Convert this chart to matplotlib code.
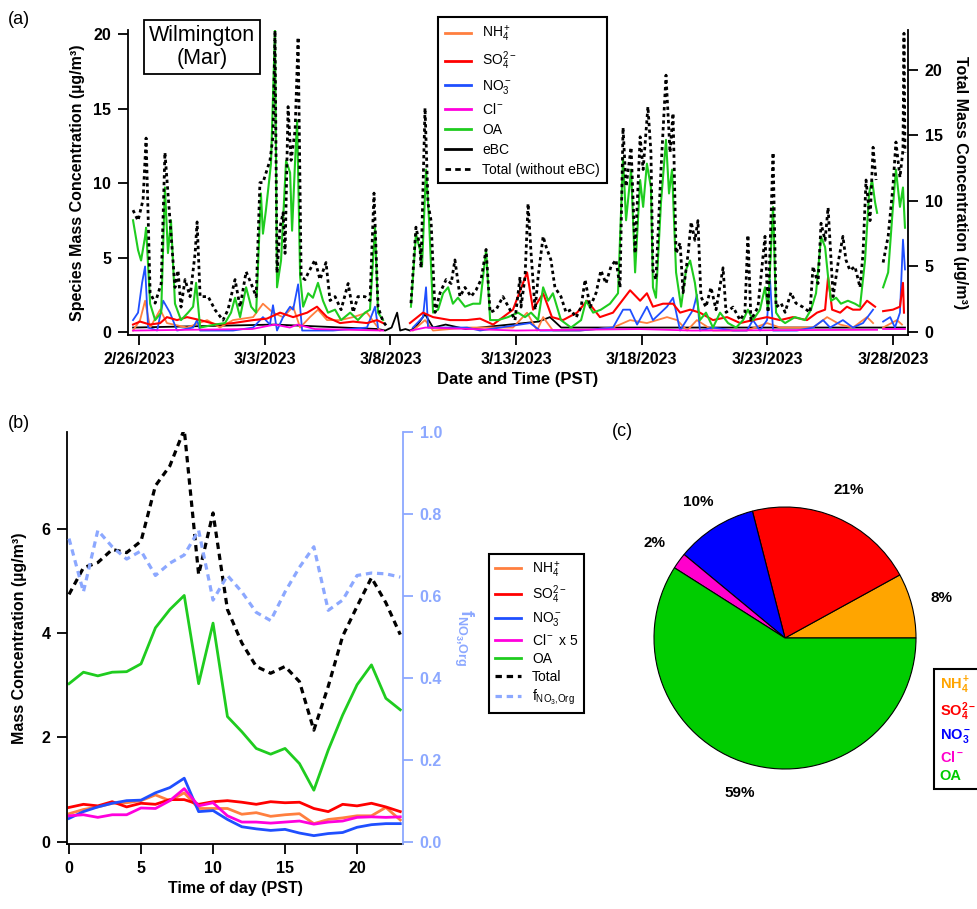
import numpy as np
import pandas as pd
import matplotlib
matplotlib.use('Agg')
import matplotlib.pyplot as plt
import matplotlib.dates as mdates
from matplotlib.lines import Line2D

plt.rcParams['font.family'] = ['Liberation Sans', 'DejaVu Sans']
plt.rcParams['mathtext.fontset'] = 'custom'
plt.rcParams['mathtext.rm'] = 'Liberation Sans'
plt.rcParams['mathtext.it'] = 'Liberation Sans:italic'
plt.rcParams['mathtext.bf'] = 'Liberation Sans:bold'
plt.rcParams['mathtext.default'] = 'regular'

nan = np.nan

# ---- (a) time series, days since 2/26/2023 00:00 PST ----
tot_day = [-0.24, -0.04, 0.16, 0.28, 0.44, 0.64, 0.88, 1.03, 1.23, 1.43,
           1.55, 1.67, 1.83, 2.03, 2.23, 2.31, 2.43, 2.75, 3.02, 3.34,
           3.54, 3.82, 4.02, 4.26, 4.46, 4.66, 4.81, 4.93, 5.21, 5.33,
           5.41, 5.49, 5.61, 5.73, 5.81, 5.93, 6.05, 6.21, 6.33, 6.45,
           6.61, 6.73, 7.00, 7.20, 7.44, 7.60, 7.80, 8.04, 8.32, 8.52,
           8.71, 8.99, 9.19, 9.35, 9.51, 9.71, 9.91, 10.3,
           10.82, 11.02, 11.18, 11.22, 11.38, 11.50, 11.62, 11.78, 11.98, 12.22,
           12.42, 12.57, 12.77, 12.97, 13.21, 13.41, 13.61, 13.81, 13.97, 14.21,
           14.48, 14.76, 14.96, 15.16, 15.20, 15.36, 15.48, 15.60, 15.76, 15.88,
           16.08, 16.20, 16.39, 16.55, 16.79, 16.99, 17.19, 17.39, 17.59, 17.75,
           17.95, 18.19, 18.38, 18.58, 18.78, 18.98, 19.14, 19.26, 19.38, 19.58,
           19.74, 19.94, 20.06, 20.25, 20.37, 20.45, 20.57, 20.77, 20.97, 21.13,
           21.25, 21.37, 21.53, 21.65, 21.85, 21.97, 22.12, 22.24, 22.36, 22.56,
           22.76, 22.96, 23.24, 23.36, 23.64, 23.92, 24.11, 24.23, 24.35, 24.63,
           24.91, 25.03, 25.23, 25.35, 25.55, 25.71, 25.94, 26.14, 26.42, 26.70,
           26.82, 27.02, 27.14, 27.30, 27.42, 27.62, 27.82, 28.01, 28.13, 28.29,
           28.49, 28.69, 28.81, 28.93, 29.09, 29.21, 29.33, 29.45, 29.61, 29.81,
           30.00, 30.12, 30.28, 30.40, 30.44, 30.48]
tot_val = [9.3, 8.5, 10.1, 14.8, 3.0, 2.2, 3.7, 13.7, 8.5, 3.4,
           4.7, 1.9, 4.0, 2.7, 6.0, 8.4, 2.7, 2.7, 1.7, 0.9,
           1.7, 4.0, 1.9, 4.6, 3.7, 2.7, 11.4, 11.4, 13.1, 14.9,
           23.0, 4.5, 8.0, 9.1, 6.0, 17.2, 13.1, 15.4, 22.5, 4.2,
           4.0, 4.5, 5.5, 4.0, 5.3, 2.4, 2.7, 1.7, 3.7, 1.5,
           2.7, 2.7, 2.4, 10.6, 1.9, 0.8, 0.3, nan,
           2.2, 8.0, 6.5, 4.9, 17.1, 9.8, 8.5, 1.5, 3.0, 4.0,
           3.7, 5.5, 2.7, 3.4, 2.7, 3.2, 4.0, 6.3, 1.5, 1.7,
           2.7, 1.7, 0.9, 4.2, 1.9, 4.2, 9.8, 6.0, 1.7, 4.2,
           7.3, 6.5, 5.5, 3.4, 2.7, 1.5, 1.7, 1.1, 1.9, 4.0,
           1.9, 3.0, 4.7, 3.7, 5.0, 5.5, 3.4, 15.6, 11.1, 14.1,
           6.0, 14.9, 12.4, 17.2, 13.7, 4.7, 4.0, 12.4, 19.6, 13.7,
           16.7, 6.0, 6.8, 3.0, 6.0, 8.4, 7.0, 8.5, 2.7, 1.9,
           3.4, 1.7, 4.9, 1.5, 1.9, 0.9, 1.5, 7.4, 0.9, 1.9,
           7.3, 1.5, 13.7, 1.9, 2.2, 1.5, 3.0, 2.2, 1.9, 1.5,
           5.0, 3.7, 8.3, 7.0, 9.5, 2.7, 5.3, 7.3, 5.5, 4.7,
           5.0, 3.4, 6.0, 11.6, 8.5, 14.1, 11.6, nan, 5.3, 7.3,
           11.1, 14.5, 11.8, 13.9, 22.8, 13.7]

oa_day = [-0.24, -0.04, 0.08, 0.24, 0.28, 0.44, 0.64, 0.88, 1.03, 1.15,
          1.27, 1.43, 1.67, 1.95, 2.15, 2.27, 2.43, 3.02, 3.42, 3.66,
          3.82, 4.02, 4.26, 4.46, 4.66, 4.85, 4.93, 5.05, 5.25, 5.41,
          5.49, 5.65, 5.85, 6.01, 6.09, 6.21, 6.29, 6.41, 6.53, 6.73,
          6.92, 7.12, 7.32, 7.52, 7.80, 8.04, 8.40, 8.71, 8.99, 9.19,
          9.39, 9.51, 9.71, 10.3,
          10.82, 11.02, 11.18, 11.26, 11.42, 11.54, 11.70, 11.90, 12.10, 12.30,
          12.49, 12.69, 12.97, 13.29, 13.57, 13.81, 13.97, 14.29, 14.68, 15.08,
          15.36, 15.60, 15.88, 16.08, 16.28, 16.47, 16.79, 17.19, 17.59, 17.79,
          18.07, 18.38, 18.74, 19.06, 19.26, 19.38, 19.58, 19.74, 19.94, 20.06,
          20.21, 20.37, 20.45, 20.57, 20.77, 20.97, 21.09, 21.21, 21.37, 21.57,
          21.77, 21.93, 22.12, 22.32, 22.56, 22.84, 23.12, 23.44, 23.76, 24.04,
          24.23, 24.43, 24.71, 24.91, 25.03, 25.23, 25.35, 25.55, 25.71, 26.10,
          26.50, 26.74, 26.94, 27.14, 27.30, 27.42, 27.54, 27.74, 27.93, 28.21,
          28.49, 28.69, 28.89, 29.05, 29.17, 29.29, 29.37, 29.45,
          29.61, 29.81, 30.00, 30.12, 30.28, 30.40, 30.48]
oa_val = [7.5, 5.5, 4.8, 6.4, 7.0, 1.9, 0.8, 1.3, 9.7, 5.3,
          7.5, 1.9, 0.8, 1.3, 1.7, 3.3, 0.3, 0.5, 0.6, 1.3,
          2.3, 1.0, 3.0, 1.7, 1.3, 9.3, 6.6, 8.2, 11.3, 20.3,
          3.0, 4.8, 11.5, 10.7, 6.8, 11.5, 14.2, 3.7, 1.7, 2.6,
          2.3, 3.3, 2.1, 1.3, 1.5, 0.8, 1.3, 0.8, 1.3, 1.5,
          7.0, 1.3, 0.8, nan,
          1.7, 6.6, 5.5, 4.4, 10.9, 7.5, 1.3, 1.5, 2.6, 3.0,
          1.9, 2.3, 1.7, 1.9, 1.9, 5.5, 0.8, 0.8, 1.0, 1.3,
          1.0, 1.3, 0.8, 3.0, 2.1, 2.6, 0.8, 0.3, 0.8, 2.1,
          1.3, 1.5, 1.9, 2.6, 11.7, 7.5, 10.9, 4.0, 10.2, 8.4,
          11.3, 9.7, 3.0, 2.3, 8.7, 12.9, 9.3, 10.9, 4.0, 1.7,
          4.2, 4.8, 3.3, 0.8, 1.3, 0.3, 1.3, 0.6, 0.3, 0.8,
          1.5, 0.8, 1.5, 3.0, 1.5, 8.4, 1.3, 0.8, 0.6, 1.0,
          0.8, 1.5, 2.6, 6.4, 5.7, 3.7, 2.1, 2.3, 1.9, 2.1,
          1.9, 1.7, 4.8, 9.3, 10.2, 8.7, 8.0, nan,
          3.0, 4.0, 8.4, 10.9, 8.4, 9.7, 7.0]

so4_day = [-0.24, 0.04, 0.44, 0.84, 1.11, 1.51, 1.91, 2.43, 3.10, 3.74,
           4.54, 5.09, 5.61, 6.13, 6.69, 7.08, 7.48, 8.00, 8.52, 9.07,
           9.47, 9.71, 10.3,
           10.78, 11.30, 11.70, 12.38, 13.05, 13.57, 14.09, 14.88, 15.44, 15.68,
           16.08, 16.43, 16.87, 17.43, 17.83, 18.34, 18.86, 19.54, 19.94, 20.21,
           20.45, 20.85, 21.25, 21.53, 21.93, 22.32, 22.84, 23.40, 23.92, 24.43,
           24.99, 25.51, 26.02, 26.58, 26.98, 27.30, 27.42, 27.58, 27.90, 28.17,
           28.41, 28.69, 28.97, 29.29, 29.45,
           29.61, 30.00, 30.28, 30.40, 30.44]
so4_val = [0.5, 0.7, 0.5, 0.6, 1.0, 0.8, 1.0, 0.8, 0.5, 0.6,
           0.8, 0.9, 1.3, 1.0, 1.3, 1.7, 1.0, 0.6, 0.7, 0.6,
           0.8, 0.6, nan,
           0.6, 1.3, 1.0, 0.8, 0.8, 0.9, 0.5, 1.5, 4.0, 1.5,
           2.6, 1.0, 0.8, 1.3, 2.1, 1.0, 1.3, 2.8, 2.1, 2.6,
           1.7, 1.9, 1.9, 1.3, 1.5, 1.3, 0.8, 1.0, 0.6, 0.8,
           1.0, 0.8, 1.0, 0.8, 1.3, 1.5, 3.7, 1.5, 1.3, 1.7,
           1.5, 1.5, 2.1, 1.7, nan,
           1.4, 1.5, 1.7, 3.3, 1.3]

no3_day = [-0.24, -0.04, 0.12, 0.24, 0.36, 0.72, 0.96, 1.23, 1.51, 2.15,
           2.31, 2.43, 3.74, 4.54, 4.93, 5.21, 5.33, 5.49, 5.73, 6.01,
           6.13, 6.33, 6.49, 7.72, 9.07, 9.39, 9.51, 10.3,
           10.90, 11.30, 11.42, 11.50, 13.05, 13.57, 15.56, 15.96, 17.55, 18.86,
           19.26, 19.54, 19.82, 20.21, 20.45, 21.01, 21.25, 21.53, 22.05, 22.20,
           22.32, 22.84, 23.64, 24.19, 24.43, 24.71, 24.99, 25.11, 25.23, 26.18,
           26.82, 27.22, 27.50, 28.01, 28.41, 28.81, 29.21, 29.45,
           29.61, 29.89, 30.08, 30.28, 30.40, 30.48]
no3_val = [0.8, 1.3, 3.3, 4.4, 0.3, 0.1, 2.1, 1.3, 0.1, 0.3,
           0.8, 0.1, 0.1, 0.3, 1.0, 0.5, 1.8, 0.1, 1.0, 1.7,
           1.5, 3.2, 0.1, 0.1, 0.3, 1.7, 0.3, nan,
           0.3, 1.0, 3.0, 0.3, 0.3, 0.1, 0.6, 0.1, 0.1, 0.3,
           1.5, 1.5, 0.5, 1.7, 0.8, 1.7, 2.3, 0.1, 1.5, 2.5,
           0.1, 0.3, 0.1, 0.1, 0.8, 0.1, 0.8, 3.5, 0.1, 0.1,
           0.3, 0.8, 0.3, 0.8, 0.3, 0.6, 1.5, nan,
           0.7, 1.0, 0.3, 1.3, 6.2, 4.2]

nh4_day = [-0.24, 0.04, 0.24, 0.44, 0.84, 1.11, 1.91, 2.71, 3.22, 3.74,
           4.54, 4.93, 5.33, 5.73, 6.13, 6.41, 6.80, 7.12, 7.48, 8.00,
           8.52, 9.07, 9.59, 10.3,
           10.90, 11.38, 11.70, 13.05, 13.85, 14.88, 15.44, 15.84, 16.08, 16.47,
           17.55, 18.86, 19.54, 20.21, 21.01, 21.41, 21.81, 22.20, 22.84, 24.19,
           24.99, 25.51, 26.82, 27.38, 27.90, 28.41, 28.97, 29.21, 29.45,
           29.61, 30.16, 30.36]
nh4_val = [0.1, 0.8, 2.1, 0.3, 1.5, 0.6, 0.3, 0.8, 0.3, 0.8,
           1.0, 1.9, 1.3, 1.0, 1.7, 0.3, 1.0, 1.5, 0.8, 0.8,
           1.0, 1.3, 0.1, nan,
           0.1, 0.8, 0.1, 0.3, 0.3, 0.3, 1.3, 0.1, 1.0, 0.1,
           0.1, 0.3, 0.8, 0.6, 1.0, 0.8, 0.1, 0.8, 0.1, 0.1,
           0.6, 0.3, 0.3, 1.0, 0.5, 0.3, 1.0, 0.6, nan,
           0.3, 0.8, 0.5]

cl_day = [-0.24, 2.0, 4.5, 5.4, 6.0, 6.3, 7.0, 9.71, 10.3, 10.82,
          11.4, 15.0, 19.9, 22.0, 29.37, 29.45, 29.61, 30.48]
cl_val = [0.1, 0.15, 0.2, 0.5, 0.3, 0.5, 0.2, 0.1, nan, 0.1,
          0.3, 0.1, 0.2, 0.1, 0.15, nan, 0.2, 0.2]

bc_day = [-0.24, 5.4, 9.5, 9.8, 10.05, 10.27, 10.39, 10.6, 10.78, 11.0,
          11.38, 11.7, 12.2, 13.0, 15.9, 16.35, 16.8, 20.0, 30.48]
bc_val = [0.3, 0.5, 0.2, 0.1, 0.3, 1.3, 0.1, 0.2, 0.1, 0.3,
          1.2, 0.3, 0.5, 0.2, 0.7, 1.0, 0.3, 0.3, 0.3]

# ---- (b) diurnal cycle ----
hours = list(range(24))
d_nh4 = [0.54, 0.62, 0.67, 0.74, 0.75, 0.79, 0.90, 0.79, 0.94, 0.64, 0.64, 0.64,
         0.53, 0.56, 0.49, 0.52, 0.54, 0.35, 0.43, 0.46, 0.50, 0.50, 0.66, 0.42]
d_so4 = [0.66, 0.72, 0.69, 0.77, 0.67, 0.74, 0.72, 0.81, 0.81, 0.72, 0.77, 0.79,
         0.76, 0.72, 0.77, 0.75, 0.76, 0.64, 0.58, 0.72, 0.69, 0.74, 0.67, 0.58]
d_no3 = [0.45, 0.58, 0.67, 0.74, 0.79, 0.80, 0.94, 1.04, 1.22, 0.58, 0.60, 0.43,
         0.29, 0.25, 0.22, 0.24, 0.17, 0.12, 0.16, 0.18, 0.28, 0.33, 0.35, 0.35]
d_cl5 = [0.50, 0.52, 0.47, 0.52, 0.52, 0.65, 0.64, 0.79, 1.02, 0.69, 0.75, 0.50,
         0.38, 0.38, 0.36, 0.38, 0.40, 0.34, 0.38, 0.40, 0.47, 0.48, 0.47, 0.48]
d_oa = [3.03, 3.25, 3.18, 3.25, 3.26, 3.41, 4.10, 4.45, 4.72, 3.03, 4.19, 2.40,
        2.11, 1.79, 1.68, 1.79, 1.50, 0.99, 1.76, 2.43, 3.01, 3.39, 2.75, 2.53]
d_tot = [4.74, 5.25, 5.35, 5.60, 5.54, 5.76, 6.82, 7.20, 7.90, 5.12, 6.30, 4.45,
         3.81, 3.36, 3.23, 3.36, 3.07, 2.14, 2.98, 3.94, 4.51, 5.06, 4.58, 3.97]
d_fno3 = [0.74, 0.61, 0.76, 0.72, 0.69, 0.71, 0.65, 0.68, 0.70, 0.76, 0.59, 0.65,
          0.61, 0.56, 0.54, 0.61, 0.67, 0.72, 0.565, 0.59, 0.65, 0.656, 0.654, 0.646]

# ---- (c) campaign mean composition (%) ----
pie_names = ['NH$_4^+$', 'SO$_4^{2-}$', 'NO$_3^-$', 'Cl$^-$', 'OA']
pie_pct = [8, 21, 10, 2, 59]
pie_cols = ['#FFA500', '#FF0000', '#0000FF', '#FF00CC', '#00CC00']

c_nh4 = '#FF7F3F'
c_so4 = '#FF0000'
c_no3 = '#1F4FFF'
c_cl = '#FF00DD'
c_oa = '#1FCC1F'
c_f = '#8CA8FF'

W, H = 977, 909
fig = plt.figure(figsize=(W / 100, H / 100), dpi=100)


def fx(px):
    return px / W


def fy(py):
    return 1 - py / H


def bold_ticks(ax):
    for lab in ax.get_xticklabels() + ax.get_yticklabels():
        lab.set_fontweight('bold')


# ================= (a) =================
t0 = mdates.date2num(pd.Timestamp('2023-02-26'))
ax = fig.add_axes([fx(128), fy(335), fx(780), 305 / H])
ax2 = ax.twinx()

ax.plot(t0 + np.array(bc_day), bc_val, color='black', lw=1.3)
ax.plot(t0 + np.array(nh4_day), nh4_val, color=c_nh4, lw=1.3)
ax.plot(t0 + np.array(no3_day), no3_val, color=c_no3, lw=1.3)
ax.plot(t0 + np.array(so4_day), so4_val, color=c_so4, lw=1.5)
ax.plot(t0 + np.array(cl_day), cl_val, color=c_cl, lw=1.3)
ax.plot(t0 + np.array(oa_day), oa_val, color=c_oa, lw=1.5)
ax2.plot(t0 + np.array(tot_day), tot_val, color='black', lw=2, ls=(0, (1.2, 1.2)))

ax.set_xlim(t0 - 0.44, t0 + 30.6)
ax.set_ylim(-0.2, 20.27)
ax2.set_ylim(-0.23, 23.05)
xt = pd.date_range('2023-02-26', '2023-03-28', freq='5D')
ax.set_xticks(mdates.date2num(xt))
ax.set_xticklabels([f'{d.month}/{d.day}/{d.year}' for d in xt])
ax.set_yticks([0, 5, 10, 15, 20])
ax2.set_yticks([0, 5, 10, 15, 20])
for a in (ax, ax2):
    a.spines['top'].set_visible(False)
    a.tick_params(direction='out', length=7, width=1.3, pad=5, labelsize=11.5)
    for s in a.spines.values():
        s.set_linewidth(1.3)
ax.spines['right'].set_visible(False)
ax2.spines['left'].set_visible(False)
ax2.spines['bottom'].set_visible(False)
bold_ticks(ax)
bold_ticks(ax2)
ax.set_xlabel('Date and Time (PST)', fontsize=12, fontweight='bold', labelpad=4)
ax.set_ylabel('Species Mass Concentration (µg/m³)', fontsize=11.5, fontweight='bold', labelpad=6)
ax2.set_ylabel('Total Mass Concentration (µg/m³)', fontsize=11.5, fontweight='bold',
               rotation=270, labelpad=18)

fig.text(fx(8), fy(19), '(a)', fontsize=13, va='center', ha='left')
fig.text(fx(202), fy(47), 'Wilmington\n(Mar)', fontsize=15.5, ha='center', va='center',
         linespacing=1.1,
         bbox=dict(boxstyle='square,pad=0.25', fc='white', ec='black', lw=1.3))

leg_a = [Line2D([], [], color=c_nh4, lw=2), Line2D([], [], color=c_so4, lw=2),
         Line2D([], [], color=c_no3, lw=2), Line2D([], [], color=c_cl, lw=2),
         Line2D([], [], color=c_oa, lw=2), Line2D([], [], color='black', lw=2),
         Line2D([], [], color='black', lw=2, ls=(0, (2, 1.5)))]
lab_a = ['NH$_4^+$', 'SO$_4^{2-}$', 'NO$_3^-$', 'Cl$^-$', 'OA', 'eBC', 'Total (without eBC)']
lg = fig.legend(leg_a, lab_a, loc='upper left', bbox_to_anchor=(fx(438), fy(17)),
                fontsize=10, handlelength=1.9, labelspacing=0.42, borderpad=0.5,
                fancybox=False, framealpha=1, edgecolor='black', borderaxespad=0)
lg.get_frame().set_linewidth(1.5)

# ================= (b) =================
bx = fig.add_axes([fx(67), fy(844), fx(336), 412 / H])
bx2 = bx.twinx()
l1, = bx.plot(hours, d_nh4, color=c_nh4, lw=2)
l2, = bx.plot(hours, d_so4, color=c_so4, lw=2)
l3, = bx.plot(hours, d_no3, color=c_no3, lw=2)
l4, = bx.plot(hours, d_cl5, color=c_cl, lw=2)
l5, = bx.plot(hours, d_oa, color=c_oa, lw=2)
l6, = bx.plot(hours, d_tot, color='black', lw=2.3, ls=(0, (2, 1.5)))
l7, = bx2.plot(hours, d_fno3, color=c_f, lw=2.3, ls=(0, (2, 1.5)))

bx.set_xlim(-0.14, 23.19)
bx.set_ylim(-0.04, 7.85)
bx2.set_ylim(-0.005, 1.0)
bx.set_xticks([0, 5, 10, 15, 20])
bx.set_yticks([0, 2, 4, 6])
bx2.set_yticks([0.0, 0.2, 0.4, 0.6, 0.8, 1.0])
bx2.set_yticklabels(['0.0', '0.2', '0.4', '0.6', '0.8', '1.0'])
for a in (bx, bx2):
    a.spines['top'].set_visible(False)
    a.tick_params(direction='out', length=7, width=1.3, pad=5, labelsize=11.5)
    for s in a.spines.values():
        s.set_linewidth(1.3)
bx.spines['right'].set_visible(False)
bx2.spines['left'].set_visible(False)
bx2.spines['bottom'].set_visible(False)
bx2.spines['right'].set_color(c_f)
bx2.tick_params(axis='y', colors=c_f)
bold_ticks(bx)
bold_ticks(bx2)
bx.set_xlabel('Time of day (PST)', fontsize=11.5, fontweight='bold', labelpad=4)
bx.set_ylabel('Mass Concentration (µg/m³)', fontsize=11.5, fontweight='bold', labelpad=10)
bx2.set_ylabel('f$_{NO_3{,}Org}$', fontsize=13, fontweight='bold', color=c_f,
               rotation=270, labelpad=24)

fig.text(fx(8), fy(423), '(b)', fontsize=13, va='center', ha='left')

lab_b = ['NH$_4^+$', 'SO$_4^{2-}$', 'NO$_3^-$', 'Cl$^-$ x 5', 'OA', 'Total', 'f$_{NO_3{,}Org}$']
lgb = fig.legend([l1, l2, l3, l4, l5, l6, l7], lab_b, loc='upper left',
                 bbox_to_anchor=(fx(489), fy(554)), fontsize=10, handlelength=1.9,
                 labelspacing=0.3, borderpad=0.4, fancybox=False, framealpha=1,
                 edgecolor='black', borderaxespad=0)
lgb.get_frame().set_linewidth(1.5)

# ================= (c) =================
r = 131
cx = fig.add_axes([fx(785 - r), fy(638 + r), fx(2 * r), 2 * r / H])
cx.pie(pie_pct, colors=pie_cols, startangle=0, counterclock=True,
       wedgeprops=dict(edgecolor='black', linewidth=0.8),
       autopct='%1.0f%%', pctdistance=1.23,
       textprops=dict(fontsize=11, fontweight='bold'))
cx.set_xlim(-1, 1)
cx.set_ylim(-1, 1)
cx.axis('off')
fig.text(fx(612), fy(432), '(c)', fontsize=13, va='center', ha='left')

hc = [Line2D([], [], ls='none') for _ in pie_names]
lgc = fig.legend(hc, pie_names, loc='upper left', bbox_to_anchor=(fx(934), fy(669)),
                 handlelength=0, handletextpad=0, labelcolor=pie_cols,
                 prop=dict(size=10.5, weight='bold'), labelspacing=0.3, borderpad=0.4,
                 fancybox=False, framealpha=1, edgecolor='black', borderaxespad=0)
lgc.get_frame().set_linewidth(1.5)

fig.savefig('out.png', dpi=100)
